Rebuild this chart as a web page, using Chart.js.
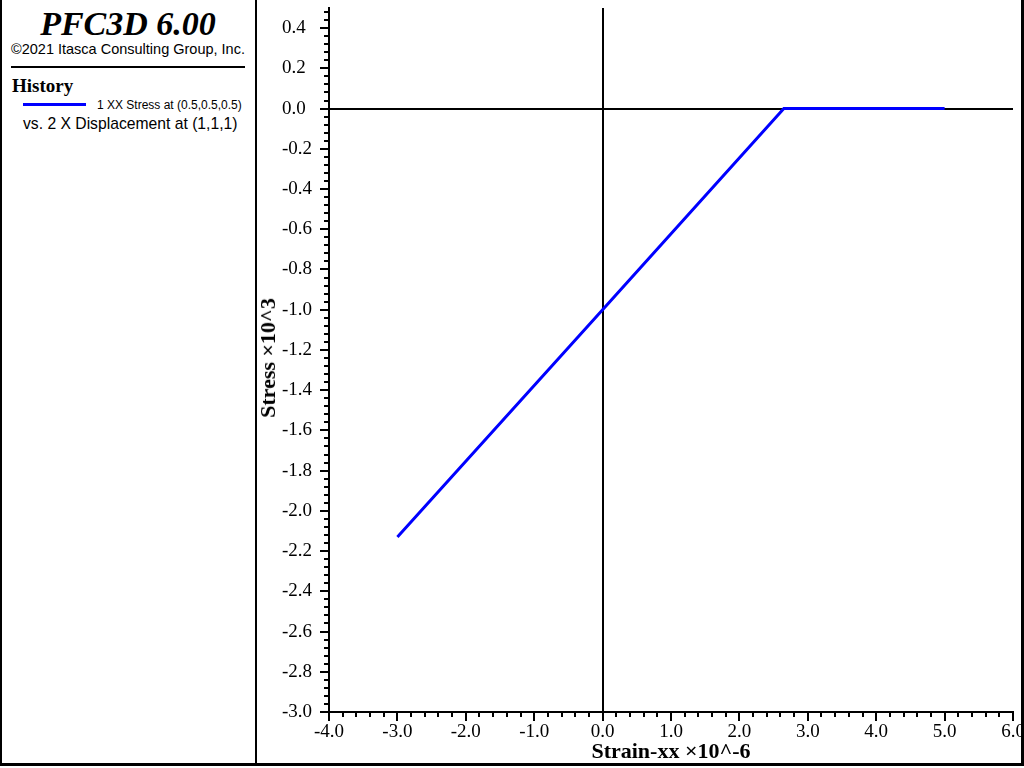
<!DOCTYPE html>
<html>
<head>
<meta charset="utf-8">
<script src="https://cdn.jsdelivr.net/npm/chart.js@4"></script>
<style>
  body { margin: 0; background: #fff; }
  #frame { position: relative; width: 1024px; height: 768px; overflow: hidden; background: #fff; }
  .bar { position: absolute; background: #000; }
  .txt { position: absolute; white-space: nowrap; line-height: 1; color: #000; }
  #chartBox { position: absolute; left: 257px; top: 0; width: 764px; height: 763px; }
  #chartBox canvas { display: block; }
  #yTitle { position: absolute; left: 268px; top: 358px; transform: translate(-50%, -50%) rotate(-90deg);
            font: bold 22px 'Liberation Serif'; white-space: nowrap; line-height: 1; }
</style>
</head>
<body>
<div id="frame">
  <div class="bar" style="left:0;top:0;width:2px;height:766px"></div>
  <div class="bar" style="left:1021px;top:0;width:3px;height:766px"></div>
  <div class="bar" style="left:0;top:763px;width:1024px;height:3px"></div>
  <div class="bar" style="left:255px;top:0;width:2px;height:766px"></div>

  <div class="txt" style="left:0;width:256px;text-align:center;top:5px;font:italic bold 34px 'Liberation Serif'">PFC3D 6.00</div>
  <div class="txt" style="left:11px;top:41px;font:14.5px 'Liberation Sans'">©2021 Itasca Consulting Group, Inc.</div>
  <div class="bar" style="left:11px;top:66px;width:234px;height:2px"></div>
  <div class="txt" style="left:12px;top:75px;font:bold 19px 'Liberation Serif'">History</div>
  <div class="bar" style="left:23px;top:103px;width:63px;height:3px;background:#0000ff"></div>
  <div class="txt" style="left:97px;top:98px;font:12px 'Liberation Sans'">1 XX Stress at (0.5,0.5,0.5)</div>
  <div class="txt" style="left:23px;top:115px;font:15.7px 'Liberation Sans'">vs. 2 X Displacement at (1,1,1)</div>

  <div id="chartBox"><canvas id="chart"></canvas></div>
  <div id="yTitle">Stress ×10^3</div>
</div>

<script>
// history: stress vs strain
const strainX = [-3.0, 0.0, 2.65, 5.0];
const stressY = [-2.13, -1.0, 0.0, 0.0];

const xMin = -4.0, xMax = 6.0, xStep = 1.0, xMinorStep = 0.2;
const yMin = -3.0, yMax = 0.5, yStep = 0.2, yMinorStep = 0.04;

const serif = "'Liberation Serif', 'Times New Roman', serif";

// small ticks between the labelled ones
const minorTicks = {
    id: "minorTicks",
    afterDraw(chart) {
        const ctx = chart.ctx;
        const area = chart.chartArea;
        const xs = chart.scales.x;
        const ys = chart.scales.y;
        ctx.save();
        ctx.strokeStyle = "#000";
        ctx.lineWidth = 2;
        ctx.beginPath();
        for (let i = 0; i <= Math.round((xMax - xMin) / xMinorStep); i++) {
            const px = Math.round(xs.getPixelForValue(xMin + i * xMinorStep));
            ctx.moveTo(px, area.bottom);
            ctx.lineTo(px, area.bottom + 5);
        }
        for (let i = 0; i <= Math.floor((yMax - yMin) / yMinorStep + 1e-6); i++) {
            const py = Math.round(ys.getPixelForValue(yMin + i * yMinorStep));
            ctx.moveTo(area.left, py);
            ctx.lineTo(area.left - 5, py);
        }
        ctx.stroke();
        ctx.restore();
    }
};

const points = strainX.map((x, i) => ({ x: x, y: stressY[i] }));

new Chart(document.getElementById("chart"), {
    type: "scatter",
    data: {
        datasets: [{
            label: "1 XX Stress at (0.5,0.5,0.5)",
            data: points,
            showLine: true,
            borderColor: "#0000ff",
            borderWidth: 3,
            pointRadius: 0,
            fill: false
        }]
    },
    options: {
        responsive: true,
        maintainAspectRatio: false,
        animation: false,
        layout: { padding: { top: 8, right: 8, left: 25, bottom: 0 } },
        plugins: {
            legend: { display: false },
            tooltip: { enabled: false }
        },
        scales: {
            x: {
                type: "linear",
                min: xMin,
                max: xMax,
                afterFit(scale) {
                    scale.height = 51;
                    scale.paddingLeft = 0;
                    scale.paddingRight = 0;
                },
                ticks: {
                    stepSize: xStep,
                    maxRotation: 0,
                    padding: 0,
                    color: "#000",
                    font: { family: serif, size: 19 },
                    callback: (v) => v.toFixed(1)
                },
                grid: {
                    color: (c) => (c.tick && Math.abs(c.tick.value) < 1e-9 ? "#000" : "rgba(0,0,0,0)"),
                    lineWidth: 2,
                    tickColor: "#000",
                    tickWidth: 2,
                    tickLength: 9
                },
                border: { display: true, color: "#000", width: 2 },
                title: {
                    display: true,
                    text: "Strain-xx ×10^-6",
                    color: "#000",
                    font: { family: serif, size: 22, weight: "bold", lineHeight: 1.0 },
                    padding: { top: 0, bottom: 0 }
                }
            },
            y: {
                type: "linear",
                min: yMin,
                max: yMax,
                afterFit(scale) {
                    scale.width = 47;
                    scale.paddingTop = 0;
                    scale.paddingBottom = 0;
                },
                ticks: {
                    stepSize: yStep,
                    includeBounds: false,
                    crossAlign: "far",
                    color: "#000",
                    font: { family: serif, size: 19 },
                    callback: (v) => (Math.abs(v) < 1e-9 ? "0.0" : v.toFixed(1))
                },
                grid: {
                    color: (c) => (c.tick && Math.abs(c.tick.value) < 1e-9 ? "#000" : "rgba(0,0,0,0)"),
                    lineWidth: 2,
                    tickColor: "#000",
                    tickWidth: 2,
                    tickLength: 9
                },
                border: { display: true, color: "#000", width: 2 }
            }
        }
    },
    plugins: [minorTicks]
});
</script>
</body>
</html>
